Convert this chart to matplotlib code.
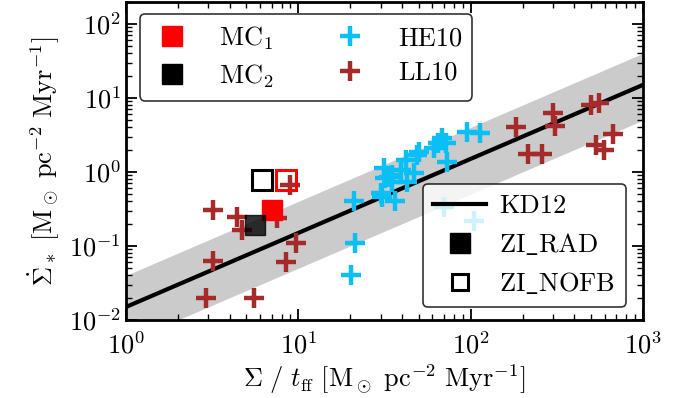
import numpy as np
import matplotlib
matplotlib.use('Agg')
import matplotlib.pyplot as plt
from matplotlib.lines import Line2D

plt.rcParams['font.family'] = 'serif'
plt.rcParams['font.serif'] = ['cmr10']
plt.rcParams['mathtext.fontset'] = 'cm'
plt.rcParams['axes.formatter.use_mathtext'] = True
plt.rcParams['font.size'] = 19

# KD12 relation: star formation efficiency per free-fall time
eps_ff = 0.015
eps_lo = 0.005
eps_hi = 0.04

# HE10 clouds (Sigma/t_ff, Sigma_SFR)
he10_x = [21, 21.2, 20.3, 31.3, 32, 30.7, 36.6, 35, 39.2, 41.9, 42.9, 46.8, 50,
          61, 65, 68, 71.6, 73, 95.7, 114, 33.6, 35, 49, 30, 70, 104.5]
he10_y = [0.40, 0.111, 0.041, 1.12, 0.82, 0.46, 0.40, 0.91, 1.06, 1.45, 0.74,
          0.96, 1.88, 2.09, 2.44, 2.85, 2.44, 1.38, 3.5, 3.33, 0.86, 0.74, 1.7,
          0.52, 0.34, 0.22]

# LL10 clouds
ll10_x = [3.19, 4.4, 4.7, 7.5, 8.98, 9.7, 8.5, 3.19, 2.9, 5.5,
          183, 214, 261, 300, 310, 500, 557, 533, 596, 666]
ll10_y = [0.31, 0.25, 0.164, 0.237, 0.67, 0.111, 0.061, 0.063, 0.020, 0.020,
          4.1, 1.75, 1.75, 6.3, 4.2, 8.0, 8.5, 2.3, 1.95, 3.3]

# simulated clouds: [MC1, MC2]
rad_x = [7.0, 5.6]
rad_y = [0.31, 0.19]
nofb_x = [8.5, 6.15]
nofb_y = [0.78, 0.78]
mc_colors = ['red', 'black']
mc_alpha = [1.0, 0.8]
mc_labels = [r'MC$_1$', r'MC$_2$']

fig = plt.figure(figsize=(6.84, 3.98), dpi=100)
ax = fig.add_axes([0.1842, 0.196, 0.7558, 0.800])

xx = np.logspace(0, 3, 50)
ax.fill_between(xx, eps_lo * xx, eps_hi * xx, color='#cbcbcb', lw=0, zorder=1)
ax.plot(xx, eps_ff * xx, color='black', lw=3, zorder=2)

ax.plot(he10_x, he10_y, ls='none', marker='+', ms=15, mew=3.2,
        color='#0abff5', zorder=3)
ax.plot(ll10_x, ll10_y, ls='none', marker='+', ms=15, mew=3.2,
        color='#a52a2a', zorder=3)

for i in range(2):
    ax.plot(rad_x[i], rad_y[i], ls='none', marker='s', ms=15,
            color=mc_colors[i], alpha=mc_alpha[i], zorder=4)
    ax.plot(nofb_x[i], nofb_y[i], ls='none', marker='s', ms=14, mfc='none',
            mec=mc_colors[i], mew=2.2, zorder=4)

ax.set_xscale('log')
ax.set_yscale('log')
ax.set_xlim(1, 1e3)
ax.set_ylim(1e-2, 2e2)
ax.set_xlabel(r'$\Sigma\ /\ t_{\rm ff}\ [{\rm M}_\odot\ {\rm pc}^{-2}\ {\rm Myr}^{-1}]$',
              labelpad=3)
ax.set_ylabel(r'$\dot{\Sigma}_*\ [{\rm M}_\odot\ {\rm pc}^{-2}\ {\rm Myr}^{-1}]$',
              labelpad=6)
ax.tick_params(which='both', direction='in', top=True, right=True)
ax.tick_params(which='major', length=8, width=1.3)
ax.tick_params(which='minor', length=4, width=1.0)
ax.tick_params(axis='x', pad=8)
for s in ax.spines.values():
    s.set_linewidth(2)

h1 = [Line2D([], [], ls='none', marker='s', ms=15, color='red'),
      Line2D([], [], ls='none', marker='s', ms=15, color='black'),
      Line2D([], [], ls='none', marker='+', ms=15, mew=3.2, color='#0abff5'),
      Line2D([], [], ls='none', marker='+', ms=15, mew=3.2, color='#a52a2a')]
leg1 = ax.legend(h1, mc_labels + ['HE10', 'LL10'], ncol=2, loc='upper left',
                 bbox_to_anchor=(0.027, 0.961), borderaxespad=0,
                 handlelength=1.6, handletextpad=1.0, columnspacing=2.1,
                 labelspacing=0.4, edgecolor='black')
leg1.get_frame().set_linewidth(1.2)
ax.add_artist(leg1)

h2 = [Line2D([], [], color='black', lw=3),
      Line2D([], [], ls='none', marker='s', ms=15, color='black'),
      Line2D([], [], ls='none', marker='s', ms=12, mfc='none', mec='black', mew=2.2)]
leg2 = ax.legend(h2, ['KD12', r'ZI$\_$RAD', r'ZI$\_$NOFB'], loc='lower right',
                 bbox_to_anchor=(0.967, 0.041), borderaxespad=0,
                 handletextpad=0.5, edgecolor='black')
leg2.get_frame().set_linewidth(1.2)

fig.savefig('out.png', dpi=100)
